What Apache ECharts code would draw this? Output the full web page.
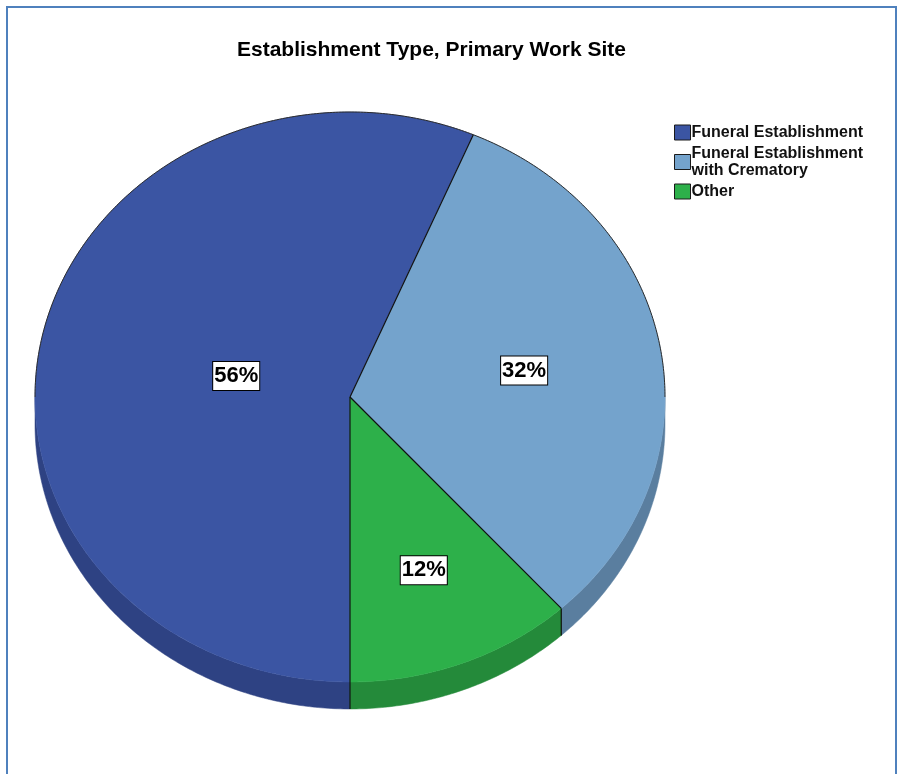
<!DOCTYPE html>
<html><head><meta charset="utf-8">
<script src="https://cdn.jsdelivr.net/npm/echarts@6/dist/echarts.min.js"></script>
<style>html,body{margin:0;padding:0;background:#fff}#c{width:905px;height:774px}</style>
</head><body><div id="c"></div>
<script>
const chartTitle = 'Establishment Type, Primary Work Site';
const categories = ['Funeral Establishment', 'Funeral Establishment with Crematory', 'Other'];
const values = [56.4, 31.9, 11.7];
const topColors = ['#3b55a3', '#74a3cc', '#2db04a'];
const sideColors = ['#2e4283', '#5a7e9f', '#248a3a'];

const L = { cx: 350, cy: 397, rx: 315, ry: 285, depth: 27 };
const FONT = '"Liberation Sans", Arial, sans-serif';
const total = values.reduce((a, b) => a + b, 0);
let cum = 0;
const slices = values.map(v => { const s = cum; cum += v; return [s / total, cum / total, v]; });

function pt(phi, dy) { return [L.cx + L.rx * Math.cos(phi), L.cy + L.ry * Math.sin(phi) + (dy || 0)]; }
function arcPts(a, b, dy) {
  const n = Math.max(2, Math.ceil((b - a) / 0.01));
  const out = [];
  for (let i = 0; i <= n; i++) out.push(pt(a + (b - a) * i / n, dy));
  return out;
}
function intersect(a1, a2, lo, hi) {
  const res = [];
  for (let k = -1; k <= 2; k++) {
    const s = Math.max(a1, lo + 2 * Math.PI * k), e = Math.min(a2, hi + 2 * Math.PI * k);
    if (e > s) res.push([s, e]);
  }
  return res;
}
function makeRender(i) {
  return function (params, api) {
    const f1 = api.value(0), f2 = api.value(1), v = api.value(2);
    const a1 = Math.PI / 2 + f1 * 2 * Math.PI, a2 = Math.PI / 2 + f2 * 2 * Math.PI;
    const children = [];
    intersect(a1, a2, 0, Math.PI).forEach(([s, e]) => {
      const top = arcPts(s, e, 0), bot = arcPts(s, e, L.depth).reverse();
      children.push({ type: 'polygon', z2: 1, shape: { points: top.concat(bot) },
        style: { fill: sideColors[i], stroke: sideColors[i], lineWidth: 0.5 } });
    });
    children.push({ type: 'polygon', z2: 2, shape: { points: [[L.cx, L.cy]].concat(arcPts(a1, a2, 0)) },
      style: { fill: topColors[i], stroke: topColors[i], lineWidth: 0.5 } });
    intersect(a1, a2, Math.PI, 2 * Math.PI).forEach(([s, e]) => {
      children.push({ type: 'polyline', z2: 3, shape: { points: arcPts(s, e, 0) },
        style: { stroke: '#2a2a2a', lineWidth: 1, fill: null } });
    });
    const p1 = pt(a1, 0);
    children.push({ type: 'line', z2: 4, shape: { x1: L.cx, y1: L.cy, x2: p1[0], y2: p1[1] },
      style: { stroke: '#111', lineWidth: 1.2 } });
    if (Math.sin(a1) > -1e-9) {
      children.push({ type: 'line', z2: 4, shape: { x1: p1[0], y1: p1[1], x2: p1[0], y2: p1[1] + L.depth },
        style: { stroke: '#111', lineWidth: 1.2 } });
    }
    const half = (a2 - a1) / 2, mid = (a1 + a2) / 2, fr = 2 * Math.sin(half) / (3 * half);
    children.push({ type: 'text', z2: 6,
      x: L.cx + fr * L.rx * Math.cos(mid), y: L.cy + fr * L.ry * Math.sin(mid),
      style: { text: Math.round(v / total * 100) + '%', align: 'center', verticalAlign: 'middle',
        fontFamily: FONT, fontWeight: 'bold', fontSize: 22, fill: '#000',
        backgroundColor: '#fff', borderColor: '#000', borderWidth: 1, padding: [4, 1, 2, 1] } });
    return { type: 'group', children };
  };
}

const chart = echarts.init(document.getElementById('c'));
chart.setOption({
  animation: false,
  color: topColors,
  title: { text: chartTitle, left: 237, top: 40, padding: 0,
    textStyle: { fontFamily: FONT, fontWeight: 'bold', fontSize: 21, color: '#000' } },
  legend: { orient: 'vertical', left: 669, top: 119, itemWidth: 16, itemHeight: 15, itemGap: 4,
    icon: 'rect', selectedMode: false, data: categories,
    itemStyle: { borderColor: '#1a1a1a', borderWidth: 1 },
    textStyle: { fontFamily: FONT, fontWeight: 'bold', fontSize: 16, color: '#111', lineHeight: 17,
      width: 190, overflow: 'break', padding: [0, 0, 0, -4] } },
  graphic: [{ type: 'rect', silent: true, shape: { x: 7, y: 7, width: 889, height: 820 },
    style: { fill: null, stroke: '#4f81bd', lineWidth: 2 } }],
  series: categories.map((name, i) => ({
    type: 'custom', name, coordinateSystem: 'none',
    itemStyle: { color: topColors[i] },
    data: [slices[i]],
    renderItem: makeRender(i)
  }))
});
</script></body></html>
